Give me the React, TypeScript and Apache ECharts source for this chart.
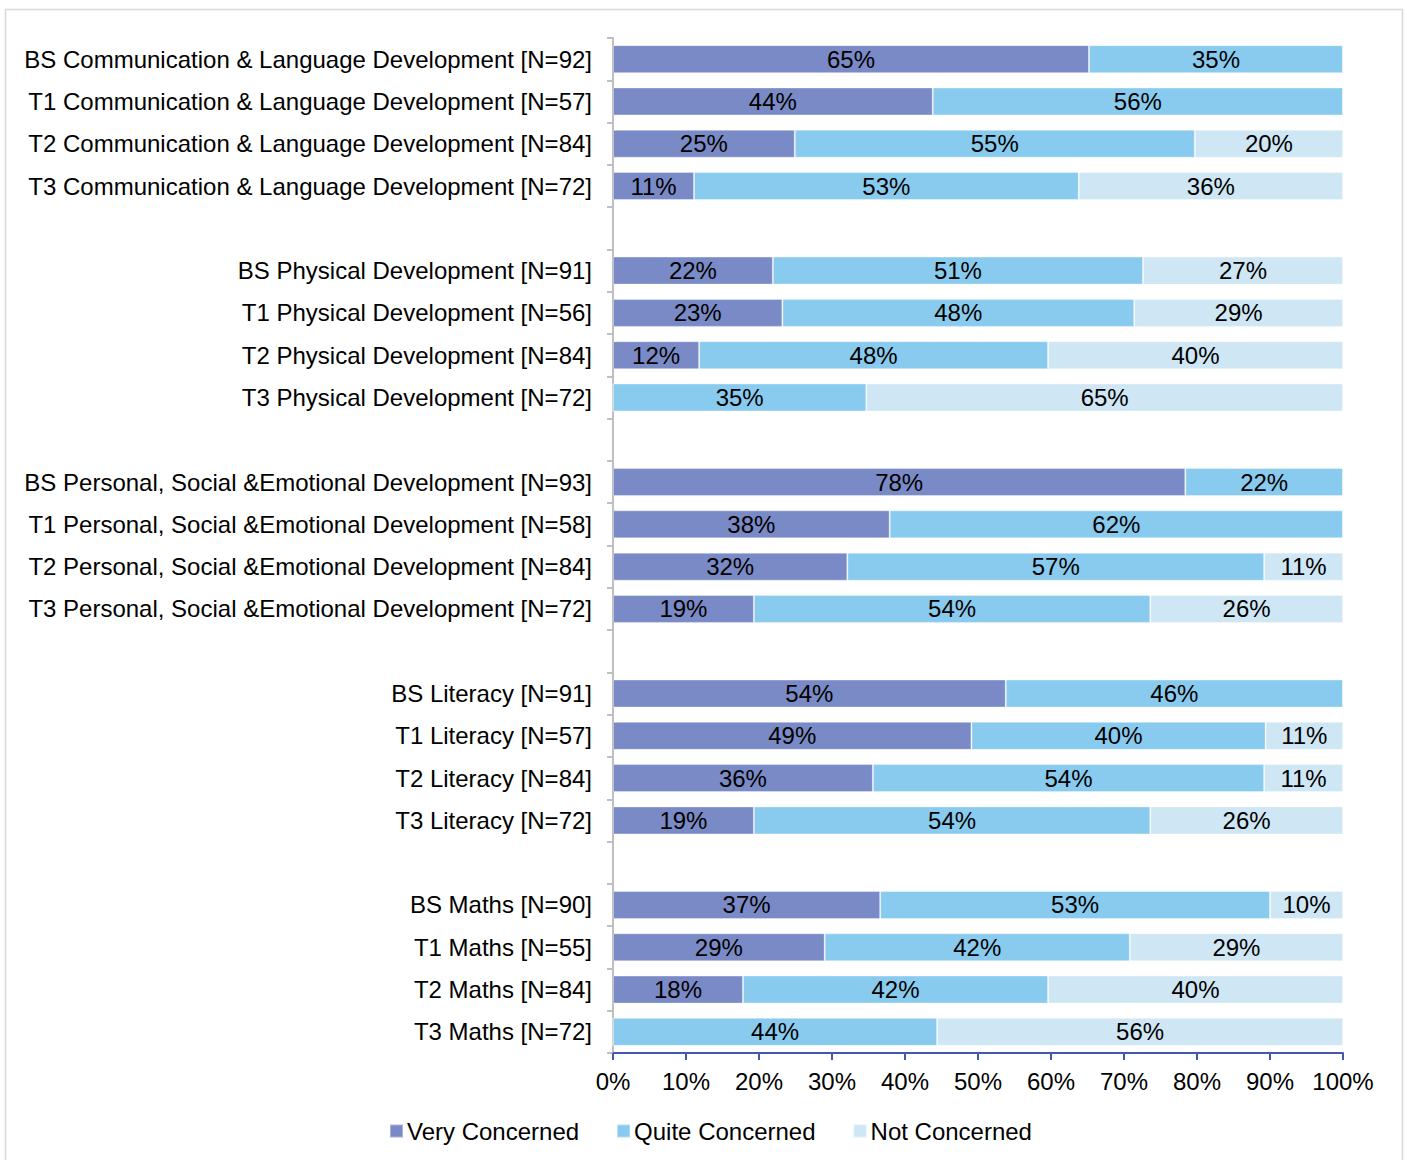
import React, { useEffect, useRef } from "react";
import * as echarts from "echarts";

const categories = [
  "BS Communication & Language Development [N=92]",
  "T1 Communication & Language Development [N=57]",
  "T2 Communication & Language Development [N=84]",
  "T3 Communication & Language Development [N=72]",
  "",
  "BS Physical Development [N=91]",
  "T1 Physical Development [N=56]",
  "T2 Physical Development [N=84]",
  "T3 Physical Development [N=72]",
  " ",
  "BS Personal, Social &Emotional Development [N=93]",
  "T1 Personal, Social &Emotional Development [N=58]",
  "T2 Personal, Social &Emotional Development [N=84]",
  "T3 Personal, Social &Emotional Development [N=72]",
  "  ",
  "BS Literacy [N=91]",
  "T1 Literacy [N=57]",
  "T2 Literacy [N=84]",
  "T3 Literacy [N=72]",
  "   ",
  "BS Maths [N=90]",
  "T1 Maths [N=55]",
  "T2 Maths [N=84]",
  "T3 Maths [N=72]",
];

const veryConcerned = [65.2, 43.8, 24.9, 11.1, null, 21.9, 23.2, 11.8, 0, null, 78.4, 37.9, 32.1, 19.3, null, 53.8, 49.1, 35.6, 19.3, null, 36.6, 29.0, 17.8, 0];
const quiteConcerned = [34.8, 56.2, 54.8, 52.7, null, 50.7, 48.2, 47.8, 34.7, null, 21.6, 62.1, 57.1, 54.3, null, 46.2, 40.3, 53.6, 54.3, null, 53.4, 41.8, 41.8, 44.4];
const notConcerned = [0, 0, 20.3, 36.2, null, 27.4, 28.6, 40.4, 65.3, null, 0, 0, 10.8, 26.4, null, 0, 10.6, 10.8, 26.4, null, 10.0, 29.2, 40.4, 55.6];

const seriesNames = ["Very Concerned", "Quite Concerned", "Not Concerned"];
const seriesColors = ["#7A8AC6", "#89CBEE", "#CFE6F4"];
const xTicks = [0, 10, 20, 30, 40, 50, 60, 70, 80, 90, 100];

const FONT = "'Liberation Sans', Arial, sans-serif";
const FS = 24;

export default function App() {
  const ref = useRef<HTMLDivElement>(null);
  useEffect(() => {
    if (!ref.current) return;
    const chart = echarts.init(ref.current, null, { renderer: "svg" });
    const datasets = [veryConcerned, quiteConcerned, notConcerned];
    chart.setOption({
      animation: false,
      textStyle: { fontFamily: FONT },
      graphic: [
        {
          type: "rect",
          shape: { x: 5.5, y: 9.5, width: 1397, height: 1170 },
          style: { fill: "none", stroke: "#D9D9D9", lineWidth: 1.5 },
          silent: true,
        },
      ],
      legend: {
        bottom: 12,
        left: 384,
        itemWidth: 13,
        itemHeight: 13,
        itemGap: 37,
        icon: "rect",
        textStyle: { fontSize: FS, color: "#000", fontFamily: FONT, padding: [0, 0, 0, -1] },
        data: seriesNames,
      },
      grid: { left: 613, right: 64, top: 38, bottom: 107, containLabel: false },
      xAxis: {
        type: "value",
        min: xTicks[0],
        max: xTicks[xTicks.length - 1],
        interval: 10,
        axisLine: { show: true, lineStyle: { color: "#4457B2", width: 2 } },
        axisTick: { show: true, length: 7, lineStyle: { color: "#4457B2", width: 2 } },
        splitLine: { show: false },
        axisLabel: { formatter: "{value}%", fontSize: FS, color: "#000", margin: 16, fontFamily: FONT },
      },
      yAxis: {
        type: "category",
        inverse: true,
        data: categories,
        axisLine: { show: true, lineStyle: { color: "#BFBFBF", width: 2 } },
        axisTick: { show: true, length: 6, lineStyle: { color: "#BFBFBF", width: 2 } },
        axisLabel: { fontSize: FS, color: "#000", margin: 21, fontFamily: FONT },
      },
      series: datasets.map((d, i) => ({
        name: seriesNames[i],
        type: "bar",
        stack: "total",
        barWidth: 28,
        data: d,
        itemStyle: { color: seriesColors[i], borderColor: "rgba(255,255,255,0.35)", borderWidth: 1 },
        label: {
          show: true,
          position: "inside",
          fontSize: FS,
          color: "#000",
          fontFamily: FONT,
          formatter: (p: any) => (p.value && p.value > 0 ? Math.round(p.value) + "%" : ""),
        },
      })),
    });
    return () => chart.dispose();
  }, []);
  return (
    <div
      ref={ref}
      style={{ position: "absolute", left: 0, top: 0, width: 1407, height: 1160 }}
    />
  );
}
